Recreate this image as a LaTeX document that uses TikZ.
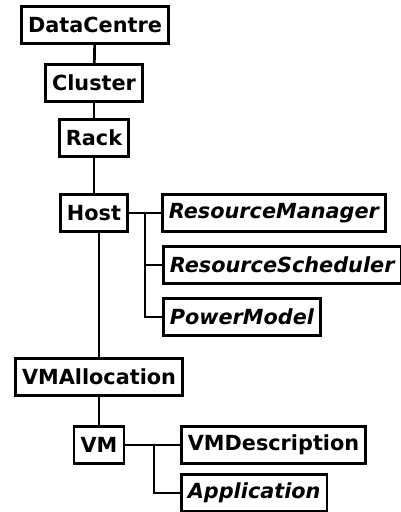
\documentclass[tikz,border=0pt]{standalone}
\usepackage{fontspec}
\setmainfont{DejaVu Sans}
\usepackage{tikz}

\begin{document}
\begin{tikzpicture}
[x=1pt,y=-1pt,
line width=2.7pt,
every node/.style={draw,rectangle,font=\fontsize{20.8}{24}\selectfont\bfseries,minimum height=37pt,inner xsep=6.5pt,inner ysep=0pt},
iface/.style={font=\fontsize{20.8}{24}\selectfont\bfseries\itshape}]

\useasboundingbox (0,0) rectangle (401,512);

\node (dc) at (95,25) {DataCentre};
\node (cluster) at (94,83) {Cluster};
\node (rack) at (94,138) {Rack};
\node (host) at (94,213) {Host};
\node[iface,anchor=west] (rm) at (161,213) {ResourceManager};
\node[iface,anchor=west] (rs) at (162,265) {ResourceScheduler};
\node[iface,anchor=west] (pm) at (162,317) {PowerModel};
\node (vmalloc) at (99,377) {VMAllocation};
\node (vm) at (99,445) {VM};
\node[anchor=west] (vmd) at (180,445) {VMDescription};
\node[iface,anchor=west] (app) at (180,493) {Application};

\coordinate (hostbr) at (145,213);
\coordinate (vmbr) at (154,445);

\draw (dc) -- (cluster);
\draw (cluster) -- (rack);
\draw (rack) -- (host);
\draw (host.south -| vmalloc.north) -- (vmalloc.north);
\draw (vmalloc) -- (vm);
\draw (host) -- (rm);
\draw (hostbr) |- (rs.west);
\draw (hostbr) |- (pm.west);
\draw (vm) -- (vmd);
\draw (vmbr) |- (app.west);
\end{tikzpicture}
\end{document}
